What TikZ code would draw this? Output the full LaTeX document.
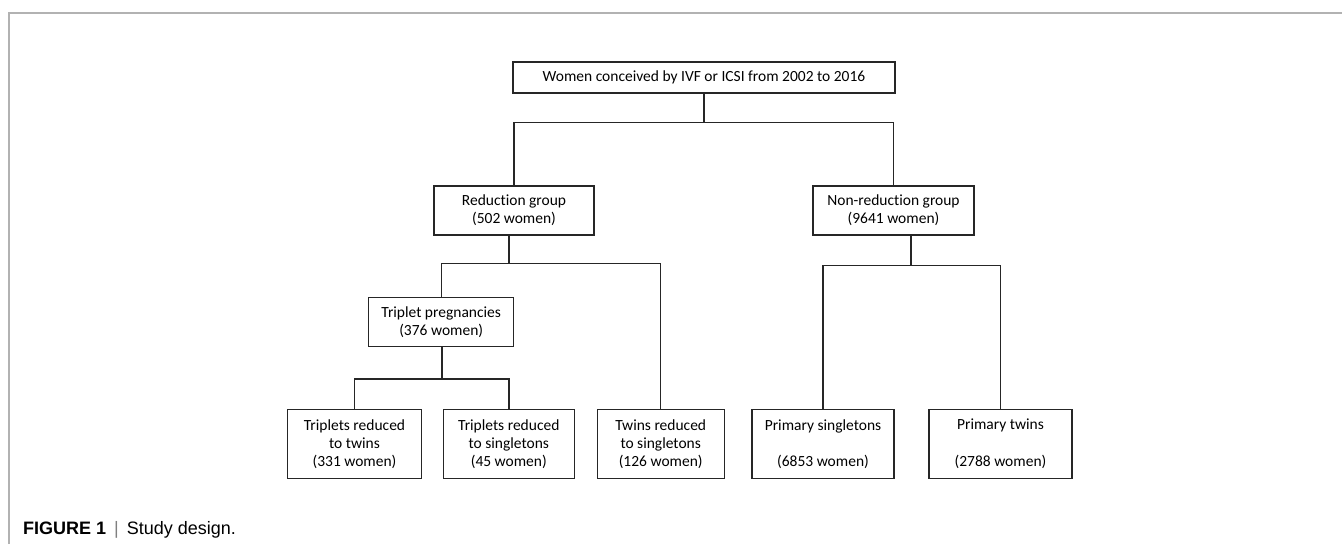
\documentclass[tikz,border=0pt]{standalone}
\usepackage{fontspec}
\newfontfamily\boxfont[Ligatures=NoCommon]{Carlito}
\newfontfamily\capfont{Liberation Sans}

\begin{document}
\begin{tikzpicture}[x=1pt,y=-1pt,
       box/.style={draw=black!85,line width=1.4pt,fill=white,align=center,inner sep=0pt,
         font=\boxfont\fontsize{15.5}{18.3}\selectfont},
       link/.style={draw=black!85,line width=1.4pt}]
       \useasboundingbox (0,0) rectangle (1342,544);
       \draw[gray!60,line width=1.2pt] (9,544) -- (9,13) -- (1342,13);
       \node[box,minimum width=382,minimum height=31] (a) at (704,77.5) {Women conceived by IVF or ICSI from 2002 to 2016};
       \node[box,minimum width=160,minimum height=49] (b1) at (514,210.5) {Reduction group\\(502 women)};
       \node[box,minimum width=161,minimum height=49] (b2) at (893.5,210.5) {Non-reduction group\\(9641 women)};
       \node[box,minimum width=145,minimum height=49] (c1) at (441.2,322) {Triplet pregnancies\\(376 women)};
       \node[box,minimum width=134,minimum height=69] (d1) at (354.5,444) {Triplets reduced\\to twins\\(331 women)};
       \node[box,minimum width=131,minimum height=69] (d2) at (508.8,444) {Triplets reduced\\to singletons\\(45 women)};
       \node[box,minimum width=127,minimum height=69] (d3) at (660.7,444) {Twins reduced\\to singletons\\(126 women)};
       \node[box,minimum width=142,minimum height=69] (d4) at (823,444) {Primary singletons\\~\\(6853 women)};
       \node[box,minimum width=143,minimum height=69] (d5) at (1000.5,444) {Primary twins\\~\\(2788 women)};
       \coordinate (ja) at (704,122.5);
       \coordinate (jb1) at (509,263.5);
       \coordinate (jb2) at (911,265.5);
       \coordinate (jc1) at (442,379);
       \draw[link] (a.south) -- (ja) -| (b1.north);
       \draw[link] (ja) -| (b2.north);
       \draw[link] (b1.south -| jb1) -- (jb1) -| (c1.north);
       \draw[link] (jb1) -| (d3.north);
       \draw[link] (b2.south -| jb2) -- (jb2) -| (d4.north);
       \draw[link] (jb2) -| (d5.north);
       \draw[link] (c1.south -| jc1) -- (jc1) -| (d1.north);
       \draw[link] (jc1) -| (d2.north);
       \node[anchor=base west,inner sep=0pt,font=\capfont\fontsize{18}{20}\selectfont] (cap) at (23,534)
         {\textbf{FIGURE 1}\hspace{8pt}{\color{gray}|}\hspace{8pt}Study design.};
\end{tikzpicture}
\end{document}
